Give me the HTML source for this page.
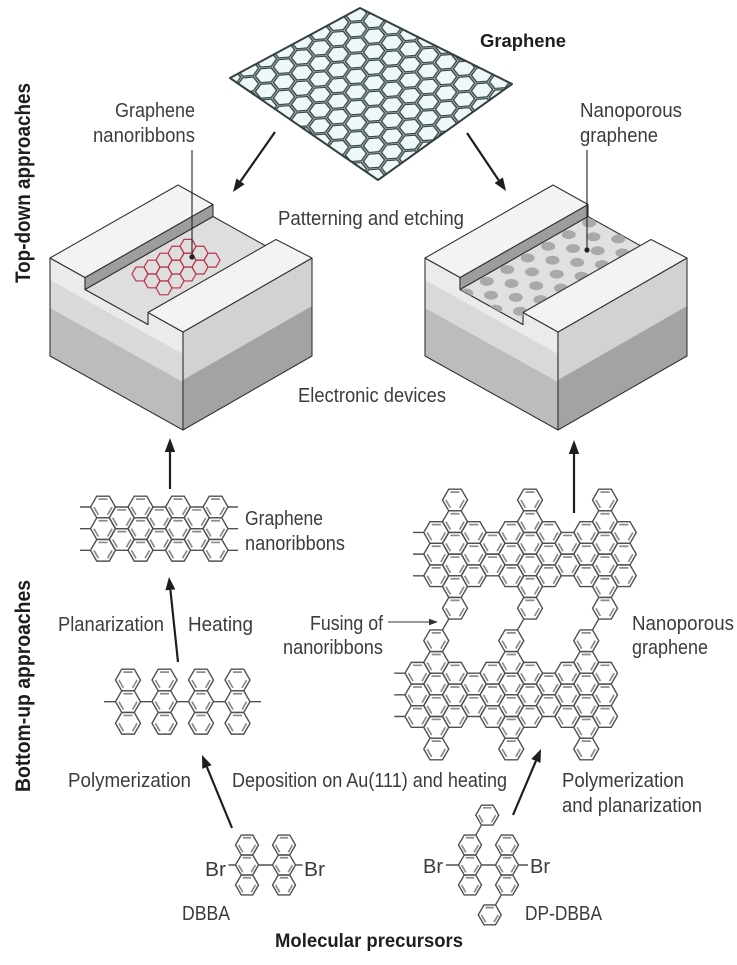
<!DOCTYPE html>
<html>
<head>
<meta charset="utf-8">
<style>
  html,body{margin:0;padding:0;background:#fff;}
  svg{display:block;}
  .lb{font-family:"Liberation Sans",Arial,sans-serif;font-size:20px;fill:#3c3c3c;}
  .bd{font-family:"Liberation Sans",Arial,sans-serif;font-weight:bold;fill:#1e1e1e;}
</style>
</head>
<body>
<svg width="737" height="965" viewBox="0 0 737 965" xmlns="http://www.w3.org/2000/svg">
<defs>
  <pattern id="gp" patternUnits="userSpaceOnUse" width="3" height="1.7320508" patternTransform="matrix(12 -0.9 0 9 230 78)">
    <rect x="0" y="0" width="3" height="1.7320508" fill="#eef8f8"/>
    <path d="M1,0l-.5,.866h-1l-.5,-.866l.5,-.866h1zM4,0l-.5,.866h-1l-.5,-.866l.5,-.866h1zM1,1.732l-.5,.866h-1l-.5,-.866l.5,-.866h1zM4,1.732l-.5,.866h-1l-.5,-.866l.5,-.866h1zM2.5,.866l-.5,.866h-1l-.5,-.866l.5,-.866h1zM2.5,-.866l-.5,.866h-1l-.5,-.866l.5,-.866h1zM2.5,2.598l-.5,.866h-1l-.5,-.866l.5,-.866h1z" fill="none" stroke="#334040" stroke-width="0.32"/>
    <path d="M1,0l-.5,.866h-1l-.5,-.866l.5,-.866h1zM4,0l-.5,.866h-1l-.5,-.866l.5,-.866h1zM1,1.732l-.5,.866h-1l-.5,-.866l.5,-.866h1zM4,1.732l-.5,.866h-1l-.5,-.866l.5,-.866h1zM2.5,.866l-.5,.866h-1l-.5,-.866l.5,-.866h1zM2.5,-.866l-.5,.866h-1l-.5,-.866l.5,-.866h1zM2.5,2.598l-.5,.866h-1l-.5,-.866l.5,-.866h1z" fill="none" stroke="#a5b8b7" stroke-width="0.09"/>
  </pattern>
  <clipPath id="sheetClip"><polygon points="230,78 360,8 512,84 378,180"/></clipPath>
  <clipPath id="dotClip"><polygon points="460,289.5 588,216.5 641,246 523,312.5 523,324.5"/></clipPath>

  <path id="rh" d="M8,0L4,6.93H-4L-8,0L-4,-6.93H4Z" fill="none" stroke="#bb3349" stroke-width="1.2"/>

  <g id="H">
    <path d="M12.5,0L6.25,10.825H-6.25L-12.5,0L-6.25,-10.825H6.25Z" fill="none" stroke="#505050" stroke-width="1.4"/>
    <path d="M-4.55,-7.88H4.55M9.1,0L4.55,7.88M-4.55,7.88L-9.1,0" fill="none" stroke="#8c8c8c" stroke-width="1.7"/>
  </g>
  <g id="h">
    <path d="M11.5,0L5.75,9.96H-5.75L-11.5,0L-5.75,-9.96H5.75Z" fill="none" stroke="#505050" stroke-width="1.4"/>
    <path d="M-4.2,-7.27H4.2M8.4,0L4.2,7.27M-4.2,7.27L-8.4,0" fill="none" stroke="#8c8c8c" stroke-width="1.7"/>
  </g>

  <g id="rib">
    <use href="#H" x="436.25" y="532.475"/><use href="#H" x="436.25" y="554.125"/><use href="#H" x="436.25" y="575.775"/>
    <use href="#H" x="455" y="500"/><use href="#H" x="455" y="521.65"/><use href="#H" x="455" y="543.3"/><use href="#H" x="455" y="564.95"/><use href="#H" x="455" y="586.6"/><use href="#H" x="455" y="608.25"/>
    <use href="#H" x="473.75" y="532.475"/><use href="#H" x="473.75" y="554.125"/><use href="#H" x="473.75" y="575.775"/>
    <use href="#H" x="492.5" y="543.3"/><use href="#H" x="492.5" y="564.95"/>
    <use href="#H" x="511.25" y="532.475"/><use href="#H" x="511.25" y="554.125"/><use href="#H" x="511.25" y="575.775"/>
    <use href="#H" x="530" y="500"/><use href="#H" x="530" y="521.65"/><use href="#H" x="530" y="543.3"/><use href="#H" x="530" y="564.95"/><use href="#H" x="530" y="586.6"/><use href="#H" x="530" y="608.25"/>
    <use href="#H" x="548.75" y="532.475"/><use href="#H" x="548.75" y="554.125"/><use href="#H" x="548.75" y="575.775"/>
    <use href="#H" x="567.5" y="543.3"/><use href="#H" x="567.5" y="564.95"/>
    <use href="#H" x="586.25" y="532.475"/><use href="#H" x="586.25" y="554.125"/><use href="#H" x="586.25" y="575.775"/>
    <use href="#H" x="605" y="500"/><use href="#H" x="605" y="521.65"/><use href="#H" x="605" y="543.3"/><use href="#H" x="605" y="564.95"/><use href="#H" x="605" y="586.6"/><use href="#H" x="605" y="608.25"/>
    <use href="#H" x="623.75" y="532.475"/><use href="#H" x="623.75" y="554.125"/><use href="#H" x="623.75" y="575.775"/>
    <path d="M413,532.475H423.75M413,554.125H423.75M413,575.775H423.75" stroke="#505050" stroke-width="1.4"/>
  </g>

  <g id="boxFaces" stroke-linejoin="round">
    <polygon points="50,258 85,277.5 85,289.5 148,324.5 148,312.5 183,332 183,430 50,356" fill="#ebebeb"/>
    <polygon points="50,280 183,354 183,382 50,308" fill="#d9d9d9"/>
    <polygon points="50,308 183,382 183,430 50,356" fill="#bcbcbc"/>
    <polygon points="50,258 85,277.5 85,289.5 148,324.5 148,312.5 183,332 183,430 50,356" fill="none" stroke="#333" stroke-width="1.1"/>
    <polygon points="183,332 312,258 312,356 183,430" fill="#d2d2d2"/>
    <polygon points="183,380 312,306 312,356 183,430" fill="#a3a3a3"/>
    <polygon points="183,332 312,258 312,356 183,430" fill="none" stroke="#333" stroke-width="1.1"/>
  </g>
  <g id="boxRidges" stroke="#333" stroke-width="1.1" stroke-linejoin="round">
    <polygon points="85,277.5 213,204.5 213,216.5 85,289.5" fill="#9d9d9d"/>
    <polygon points="50,258 178,185 213,204.5 85,277.5" fill="#f3f3f3"/>
    <polygon points="148,312.5 276,239.5 312,258 183,332" fill="#f3f3f3"/>
  </g>
</defs>

<text class="bd" font-size="21" transform="translate(30,283) rotate(-90)" textLength="200" lengthAdjust="spacingAndGlyphs">Top-down approaches</text>
<text class="bd" font-size="21" transform="translate(30,792) rotate(-90)" textLength="212" lengthAdjust="spacingAndGlyphs">Bottom-up approaches</text>

<g clip-path="url(#sheetClip)">
  <rect x="220" y="0" width="300" height="190" fill="url(#gp)"/>
</g>
<polygon points="230,78 360,8 512,84 378,180" fill="none" stroke="#34403f" stroke-width="2" stroke-linejoin="round"/>
<text class="bd" x="480" y="47" font-size="18" textLength="86" lengthAdjust="spacingAndGlyphs">Graphene</text>

<text class="lb" x="115" y="117" textLength="80" lengthAdjust="spacingAndGlyphs">Graphene</text>
<text class="lb" x="93" y="142" textLength="102" lengthAdjust="spacingAndGlyphs">nanoribbons</text>
<text class="lb" x="580" y="117" textLength="102" lengthAdjust="spacingAndGlyphs">Nanoporous</text>
<text class="lb" x="580" y="142" textLength="78" lengthAdjust="spacingAndGlyphs">graphene</text>
<text class="lb" x="278" y="225" textLength="186" lengthAdjust="spacingAndGlyphs">Patterning and etching</text>
<text class="lb" x="298" y="402" textLength="148" lengthAdjust="spacingAndGlyphs">Electronic devices</text>

<g stroke="#1e1e1e" stroke-width="2.2" fill="none">
  <line x1="275" y1="132" x2="240.5" y2="181.3"/>
  <line x1="467" y1="133" x2="498.7" y2="180.2"/>
  <line x1="170" y1="489" x2="170" y2="450"/>
  <line x1="574" y1="513" x2="574" y2="452"/>
  <line x1="178" y1="662" x2="170.4" y2="589.9"/>
  <line x1="232" y1="828" x2="206.9" y2="767"/>
  <line x1="513" y1="815" x2="535.9" y2="761"/>
</g>
<g fill="#1e1e1e">
  <polygon points="233,192 236.4,178.5 244.6,184.2"/>
  <polygon points="506,191 494.6,183 502.9,177.4"/>
  <polygon points="170,438 164.8,452 175.2,452"/>
  <polygon points="574,440 568.8,454 579.2,454"/>
  <polygon points="169,577 175.3,589.4 165.4,590.4"/>
  <polygon points="202,755 211.6,765.1 202.3,768.9"/>
  <polygon points="541,749 540.5,762.9 531.3,759"/>
</g>

<use href="#boxFaces"/>
<polygon points="85,289.5 213,216.5 266,246 148,312.5 148,324.5" fill="#dedede" stroke="#333" stroke-width="1.1" stroke-linejoin="round"/>
<g>
  <use href="#rh" x="140" y="274"/><use href="#rh" x="152" y="267.1"/><use href="#rh" x="164" y="260.1"/><use href="#rh" x="176" y="253.2"/><use href="#rh" x="188" y="246.3"/>
  <use href="#rh" x="152" y="280.9"/><use href="#rh" x="164" y="274"/><use href="#rh" x="176" y="267.1"/><use href="#rh" x="188" y="260.1"/><use href="#rh" x="200" y="253.2"/>
  <use href="#rh" x="164" y="287.9"/><use href="#rh" x="176" y="281"/><use href="#rh" x="188" y="274"/><use href="#rh" x="200" y="267.1"/><use href="#rh" x="212" y="260.2"/>
</g>
<use href="#boxRidges"/>

<g transform="translate(375,0)">
  <use href="#boxFaces"/>
  <polygon points="85,289.5 213,216.5 266,246 148,312.5 148,324.5" fill="#e2dfe0" stroke="#333" stroke-width="1.1" stroke-linejoin="round"/>
</g>
<g clip-path="url(#dotClip)" fill="#a9a9a9">
  <ellipse cx="466.3" cy="293" rx="7" ry="4.5"/><ellipse cx="486.8" cy="281.3" rx="7" ry="4.5"/><ellipse cx="507.3" cy="269.6" rx="7" ry="4.5"/><ellipse cx="527.7" cy="258" rx="7" ry="4.5"/><ellipse cx="548.2" cy="246.3" rx="7" ry="4.5"/><ellipse cx="568.7" cy="234.6" rx="7" ry="4.5"/><ellipse cx="589.2" cy="222.9" rx="7" ry="4.5"/>
  <ellipse cx="491" cy="295.2" rx="7" ry="4.5"/><ellipse cx="511.5" cy="283.5" rx="7" ry="4.5"/><ellipse cx="532" cy="271.9" rx="7" ry="4.5"/><ellipse cx="552.5" cy="260.2" rx="7" ry="4.5"/><ellipse cx="573" cy="248.5" rx="7" ry="4.5"/><ellipse cx="593.4" cy="236.8" rx="7" ry="4.5"/><ellipse cx="613.9" cy="225.1" rx="7" ry="4.5"/>
  <ellipse cx="495.3" cy="309.1" rx="7" ry="4.5"/><ellipse cx="515.8" cy="297.4" rx="7" ry="4.5"/><ellipse cx="536.2" cy="285.7" rx="7" ry="4.5"/><ellipse cx="556.7" cy="274.1" rx="7" ry="4.5"/><ellipse cx="577.2" cy="262.4" rx="7" ry="4.5"/><ellipse cx="597.7" cy="250.7" rx="7" ry="4.5"/><ellipse cx="618.2" cy="239" rx="7" ry="4.5"/>
  <ellipse cx="520" cy="311.3" rx="7" ry="4.5"/><ellipse cx="540.5" cy="299.6" rx="7" ry="4.5"/><ellipse cx="561" cy="288" rx="7" ry="4.5"/><ellipse cx="581.5" cy="276.3" rx="7" ry="4.5"/><ellipse cx="602" cy="264.6" rx="7" ry="4.5"/><ellipse cx="622.4" cy="252.9" rx="7" ry="4.5"/>
</g>
<g transform="translate(375,0)">
  <use href="#boxRidges"/>
</g>

<g stroke="#222" stroke-width="1.1">
  <line x1="192" y1="150" x2="192" y2="257"/>
  <line x1="587" y1="150" x2="587" y2="250"/>
</g>
<circle cx="192" cy="257" r="2.6" fill="#222"/>
<circle cx="587" cy="250" r="2.6" fill="#222"/>

<g>
  <use href="#H" x="103" y="507"/><use href="#H" x="103" y="528.65"/><use href="#H" x="103" y="550.3"/>
  <use href="#H" x="140.5" y="507"/><use href="#H" x="140.5" y="528.65"/><use href="#H" x="140.5" y="550.3"/>
  <use href="#H" x="178" y="507"/><use href="#H" x="178" y="528.65"/><use href="#H" x="178" y="550.3"/>
  <use href="#H" x="215.5" y="507"/><use href="#H" x="215.5" y="528.65"/><use href="#H" x="215.5" y="550.3"/>
  <use href="#H" x="121.75" y="517.825"/><use href="#H" x="121.75" y="539.475"/>
  <use href="#H" x="159.25" y="517.825"/><use href="#H" x="159.25" y="539.475"/>
  <use href="#H" x="196.75" y="517.825"/><use href="#H" x="196.75" y="539.475"/>
  <path d="M80,507H90.5M80,528.65H90.5M80,550.3H90.5M228,507H238M228,528.65H238M228,550.3H238" stroke="#505050" stroke-width="1.4"/>
</g>
<text class="lb" x="245" y="525" textLength="78" lengthAdjust="spacingAndGlyphs">Graphene</text>
<text class="lb" x="245" y="550" textLength="100" lengthAdjust="spacingAndGlyphs">nanoribbons</text>
<text class="lb" x="58" y="631" textLength="106" lengthAdjust="spacingAndGlyphs">Planarization</text>
<text class="lb" x="188" y="631" textLength="65" lengthAdjust="spacingAndGlyphs">Heating</text>

<g>
  <use href="#H" x="128" y="680"/><use href="#H" x="128" y="701.65"/><use href="#H" x="128" y="723.3"/>
  <use href="#H" x="164.5" y="680"/><use href="#H" x="164.5" y="701.65"/><use href="#H" x="164.5" y="723.3"/>
  <use href="#H" x="201" y="680"/><use href="#H" x="201" y="701.65"/><use href="#H" x="201" y="723.3"/>
  <use href="#H" x="237.5" y="680"/><use href="#H" x="237.5" y="701.65"/><use href="#H" x="237.5" y="723.3"/>
  <path d="M104,701.65H115.5M140.5,701.65H152M177,701.65H188.5M213.5,701.65H225M250,701.65H261" stroke="#505050" stroke-width="1.4"/>
</g>

<use href="#rib"/>
<use href="#rib" transform="translate(-18.75,140.725)"/>
<path d="M448.75,619.075L442.5,629.9M523.75,619.075L517.5,629.9M598.75,619.075L592.5,629.9" stroke="#505050" stroke-width="1.4"/>

<text class="lb" x="310" y="630" textLength="73" lengthAdjust="spacingAndGlyphs">Fusing of</text>
<text class="lb" x="283" y="654" textLength="100" lengthAdjust="spacingAndGlyphs">nanoribbons</text>
<line x1="388" y1="622" x2="430" y2="622" stroke="#333" stroke-width="1.1"/>
<polygon points="438,622 429,618.8 429,625.2" fill="#333"/>
<text class="lb" x="632" y="630" textLength="102" lengthAdjust="spacingAndGlyphs">Nanoporous</text>
<text class="lb" x="632" y="654" textLength="76" lengthAdjust="spacingAndGlyphs">graphene</text>

<text class="lb" x="68" y="787" textLength="123" lengthAdjust="spacingAndGlyphs">Polymerization</text>
<text class="lb" x="232" y="787" textLength="275" lengthAdjust="spacingAndGlyphs">Deposition on Au(111) and heating</text>
<text class="lb" x="562" y="787" textLength="122" lengthAdjust="spacingAndGlyphs">Polymerization</text>
<text class="lb" x="562" y="812" textLength="140" lengthAdjust="spacingAndGlyphs">and planarization</text>

<g>
  <use href="#h" x="247" y="845"/><use href="#h" x="247" y="865"/><use href="#h" x="247" y="885"/>
  <use href="#h" x="284" y="845"/><use href="#h" x="284" y="865"/><use href="#h" x="284" y="885"/>
  <path d="M258.5,865H272.5M235.5,865H228.5M295.5,865H302.5" stroke="#505050" stroke-width="1.4"/>
</g>
<text class="lb" x="205" y="876" textLength="21" lengthAdjust="spacingAndGlyphs">Br</text>
<text class="lb" x="304" y="876" textLength="21" lengthAdjust="spacingAndGlyphs">Br</text>
<text class="lb" x="182" y="920" textLength="48" lengthAdjust="spacingAndGlyphs">DBBA</text>

<g>
  <use href="#h" x="470" y="845"/><use href="#h" x="470" y="865"/><use href="#h" x="470" y="885"/>
  <use href="#h" x="507" y="845"/><use href="#h" x="507" y="865"/><use href="#h" x="507" y="885"/>
  <use href="#h" x="487.25" y="815.1"/>
  <use href="#h" x="489.75" y="914.9"/>
  <path d="M481.5,865H495.5M458.5,865H446M518.5,865H528M475.75,835.04L481.5,825.08M501.25,894.96L495.5,904.92" stroke="#505050" stroke-width="1.4"/>
</g>
<text class="lb" x="423" y="873" textLength="20" lengthAdjust="spacingAndGlyphs">Br</text>
<text class="lb" x="530" y="873" textLength="20" lengthAdjust="spacingAndGlyphs">Br</text>
<text class="lb" x="525" y="920" textLength="77" lengthAdjust="spacingAndGlyphs">DP-DBBA</text>

<text class="bd" x="275" y="947" font-size="19" textLength="188" lengthAdjust="spacingAndGlyphs">Molecular precursors</text>
</svg>
</body>
</html>
